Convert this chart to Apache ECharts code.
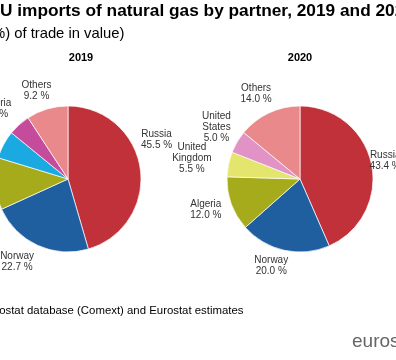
<!DOCTYPE html>
<html>
<head>
<meta charset="utf-8">
<script src="https://cdn.jsdelivr.net/npm/echarts@6/dist/echarts.min.js"></script>
<style>
html,body{margin:0;padding:0;background:#fff;}
#c{width:396px;height:360px;}
</style>
</head>
<body>
<div id="c"></div>
<script>
// ---- data ----
var partners2019 = ['Russia', 'Norway', 'Algeria', 'Qatar', 'Nigeria', 'Others'];
var shares2019   = [45.5, 22.7, 11.5, 6.2, 4.9, 9.2];
var partners2020 = ['Russia', 'Norway', 'Algeria', 'United\nKingdom', 'United\nStates', 'Others'];
var shares2020   = [43.4, 20.0, 12.0, 5.5, 5.0, 14.0];
var yearLabels   = ['2019', '2020'];

// ---- styles ----
var colors2019 = ['#c0313a', '#1f5fa0', '#a6ab1c', '#1aa9e1', '#c54c9c', '#e9898b'];
var colors2020 = ['#c0313a', '#1f5fa0', '#a6ab1c', '#e3e56c', '#e293c6', '#e9898b'];
var pieCenters = [[68, 179], [300, 179]];
var pieRadius = 73;
var VIEW_PAD = 300; // widen the series viewport so off-canvas labels are not dropped
// label placement: angle tweak (deg) from slice mid-angle, and distance from centre
var labelAdj = [
  [[-16, 97], [7, 97], [0, 100], [0, 100], [-4, 101], [-3, 94]],
  [[0, 87], [6, 91], [2, 99], [-1, 110], [1, 98], [-2, 96]]
];

function midAngles(vals) {
  var tot = vals.reduce(function (a, b) { return a + b; }, 0);
  var acc = 0, out = [];
  vals.forEach(function (v) { out.push((acc + v / 2) / tot * 360); acc += v; });
  return out;
}
var mids = [midAngles(shares2019), midAngles(shares2020)];

function makeLayout(si) {
  return function (p) {
    var i = p.dataIndex;
    var a = (mids[si][i] + labelAdj[si][i][0]) * Math.PI / 180;
    var d = labelAdj[si][i][1];
    return {
      x: pieCenters[si][0] + d * Math.sin(a),
      y: pieCenters[si][1] - d * Math.cos(a),
      align: 'center',
      verticalAlign: 'middle'
    };
  };
}

function buildData(names, vals, cols) {
  return names.map(function (n, i) {
    return { name: n, value: vals[i], itemStyle: { color: cols[i] } };
  });
}

function pieSeries(si, names, vals, cols) {
  return {
    type: 'pie',
    left: -VIEW_PAD, right: -VIEW_PAD, top: -VIEW_PAD, bottom: -VIEW_PAD,
    center: [pieCenters[si][0] + VIEW_PAD, pieCenters[si][1] + VIEW_PAD],
    radius: pieRadius,
    startAngle: 90,
    clockwise: true,
    animation: false,
    silent: true,
    data: buildData(names, vals, cols),
    itemStyle: { borderColor: '#ffffff', borderWidth: 0.7 },
    label: {
      show: true,
      position: 'outside',
      formatter: function (p) { return p.name + '\n' + p.value.toFixed(1) + ' %'; },
      fontFamily: 'Liberation Sans, Arial, sans-serif',
      fontSize: 10,
      lineHeight: 11,
      color: '#333333'
    },
    labelLine: { show: false },
    labelLayout: makeLayout(si)
  };
}

var FONT = 'Liberation Sans, Arial, sans-serif';
var chart = echarts.init(document.getElementById('c'), null, { renderer: 'canvas' });
chart.setOption({
  backgroundColor: '#ffffff',
  title: [
    { text: 'EU imports of natural gas by partner, 2019 and 2020', left: -11.5, top: 3, padding: 0,
      textStyle: { fontFamily: FONT, fontSize: 17.3, fontWeight: 'bold', color: '#000' } },
    { text: '(share (%) of trade in value)', left: -59, top: 26, padding: 0,
      textStyle: { fontFamily: FONT, fontSize: 14.8, fontWeight: 'normal', color: '#000' } },
    { text: yearLabels[0], left: 81, top: 52, padding: 0, textAlign: 'center',
      textStyle: { fontFamily: FONT, fontSize: 11, fontWeight: 'bold', color: '#000' } },
    { text: yearLabels[1], left: 300, top: 52, padding: 0, textAlign: 'center',
      textStyle: { fontFamily: FONT, fontSize: 11, fontWeight: 'bold', color: '#000' } },
    { text: 'Source: Eurostat database (Comext) and Eurostat estimates', left: -61, top: 305, padding: 0,
      textStyle: { fontFamily: FONT, fontSize: 11.4, fontWeight: 'normal', color: '#000' } },
    { text: 'eurostat', left: 352, top: 332, padding: 0,
      textStyle: { fontFamily: FONT, fontSize: 19, fontWeight: 'normal', color: '#666666' } }
  ],
  series: [
    pieSeries(0, partners2019, shares2019, colors2019),
    pieSeries(1, partners2020, shares2020, colors2020)
  ]
});
</script>
</body>
</html>
